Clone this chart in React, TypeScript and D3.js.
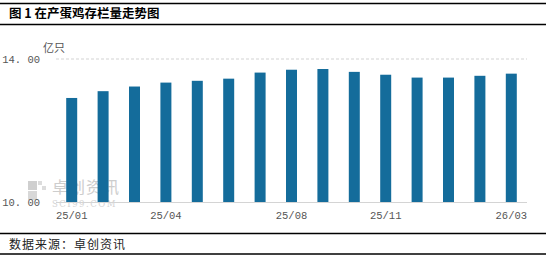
import React from "react";
import * as d3 from "d3";

const categories = ["25/01","25/02","25/03","25/04","25/05","25/06","25/07","25/08","25/09","25/10","25/11","25/12","26/01","26/02","26/03"];
const values = [12.91, 13.10, 13.23, 13.34, 13.39, 13.45, 13.62, 13.70, 13.72, 13.64, 13.56, 13.48, 13.48, 13.53, 13.59];
const shownLabels = ["25/01", "25/04", "25/08", "25/11", "26/03"];
const yTicks = [10, 14];

const W = 550, H = 258;
const left = 56, right = 527, top = 59, bottom = 202;

export default function App() {
  const x = d3.scaleBand<string>().domain(categories).range([left, right]).paddingInner(0.65).paddingOuter(0.325);
  const y = d3.scaleLinear().domain([10, 14]).range([bottom, top]);
  const mono = "'Liberation Mono', 'DejaVu Sans Mono', monospace";
  return (
    <svg width={W} height={H} style={{ position: "absolute", left: 0, top: 0, background: "#fff" }}>
      <line x1={0} x2={546} y1={3.5} y2={3.5} stroke="#000" strokeWidth={1.3} />
      <line x1={0} x2={546} y1={24.5} y2={24.5} stroke="#000" strokeWidth={1.3} />
      <text x={9} y={18} fontSize={12.5} fontWeight="bold" fontFamily="'Noto Sans CJK SC', sans-serif" fill="#000">图 1 在产蛋鸡存栏量走势图</text>

      {/* watermark */}
      <g>
        <rect x={28} y={181} width={9} height={9} fill="#cfcfcf" />
        <rect x={28} y={191} width={9} height={9} fill="#d8d8d8" />
        <rect x={38} y={181} width={4} height={4} fill="#dcdcdc" />
        <rect x={42} y={186} width={4} height={4} fill="#dcdcdc" />
        <text x={52} y={193} fontSize={16} fontFamily="'Noto Sans CJK SC', sans-serif" fill="#cdcdcd" letterSpacing={1}>卓创资讯</text>
        <text x={52} y={207} fontSize={8.5} fontFamily="'DejaVu Serif', serif" fill="#d4d4d4" letterSpacing={1.5}>SCI99.COM</text>
      </g>

      {yTicks.map(t => (
        <g key={t}>
          {t === 14 ? (
            <line x1={left} x2={right} y1={y(t)} y2={y(t)} stroke="#c8c8c8" strokeDasharray="3,2" strokeWidth={0.8} />
          ) : null}
          <text x={40} y={y(t) + 3.5} textAnchor="end" fontSize={10.5} fontFamily={mono} fill="#555">{d3.format(".2f")(t).replace(".", ". ")}</text>
        </g>
      ))}
      <text x={43} y={52} fontSize={11} fontFamily="'Noto Sans CJK SC', sans-serif" fill="#555">亿只</text>

      {categories.map((c, i) => (
        <rect key={c} x={x(c)} y={y(values[i])} width={x.bandwidth()} height={y(10) - y(values[i])} fill="#146c9b" />
      ))}
      <line x1={left} x2={right} y1={bottom + 0.5} y2={bottom + 0.5} stroke="#d4d4d4" strokeWidth={1} />

      {shownLabels.map(l => (
        <text key={l} x={(x(l) ?? 0) + x.bandwidth() / 2} y={219} textAnchor="middle" fontSize={10.5} fontFamily={mono} fill="#555">{l}</text>
      ))}

      <line x1={0} x2={546} y1={233.5} y2={233.5} stroke="#000" strokeWidth={1.3} />
      <line x1={0} x2={546} y1={254} y2={254} stroke="#000" strokeWidth={1.3} />
      <text x={9} y={249} fontSize={12} fontFamily="'Noto Sans CJK SC', sans-serif" fill="#222" letterSpacing={1}>数据来源：卓创资讯</text>
    </svg>
  );
}
